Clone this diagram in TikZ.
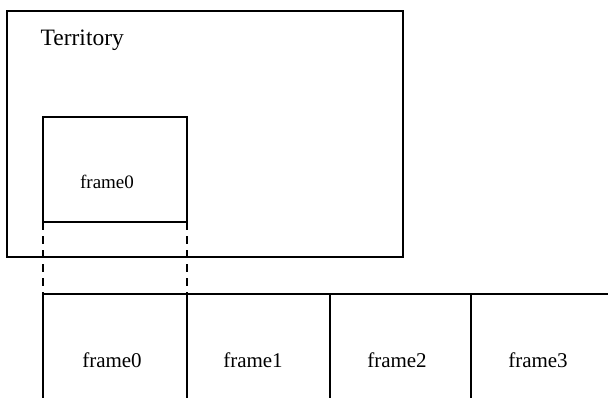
\documentclass[tikz,border=0pt]{standalone}
\usepackage{fontspec}
\setmainfont{Liberation Serif}
\begin{document}
\begin{tikzpicture}[x=1pt,y=-1pt, line width=1.3pt,
  box/.style={draw, rectangle, inner sep=0pt, outer sep=0pt, anchor=north west},
  cell/.style={rectangle, inner sep=0pt, outer sep=0pt, anchor=north west, minimum height=104pt},
  lbl/.style={inner sep=0pt, anchor=base, font=\fontsize{21}{24}\selectfont},
  dashline/.style={dash pattern=on 8pt off 6pt}]
\useasboundingbox (0,0) rectangle (608,397);
% Territory
\node[box, minimum width=396pt, minimum height=246pt] (terr) at (7,11) {};
\node[lbl, anchor=base west, font=\fontsize{23.5}{26}\selectfont] (terrlbl) at (40,45) {Territory};
% inner frame0
\node[box, minimum width=144pt, minimum height=105pt] (inner) at (43,117) {};
\node[lbl, font=\fontsize{19}{22}\selectfont] (innerlbl) at (107,188) {frame0};
% bottom row
\node[cell, minimum width=144pt] (f0) at (43,294) {};
\node[cell, minimum width=143pt] (f1) at (187,294) {};
\node[cell, minimum width=141pt] (f2) at (330,294) {};
\node[cell, minimum width=137pt] (f3) at (471,294) {};
\draw (f0.south west) -- (f0.north west) -- (f3.north east);
\draw (f1.north west) -- (f1.south west);
\draw (f2.north west) -- (f2.south west);
\draw (f3.north west) -- (f3.south west);
\node[lbl] (f0t) at (112,367) {frame0};
\node[lbl] (f1t) at (253,367) {frame1};
\node[lbl] (f2t) at (397,367) {frame2};
\node[lbl] (f3t) at (538,367) {frame3};
% dashed guides
\draw[dashline] (inner.south west) -- (f0.north west);
\draw[dashline] (inner.south east) -- (f0.north east);
\end{tikzpicture}
\end{document}
